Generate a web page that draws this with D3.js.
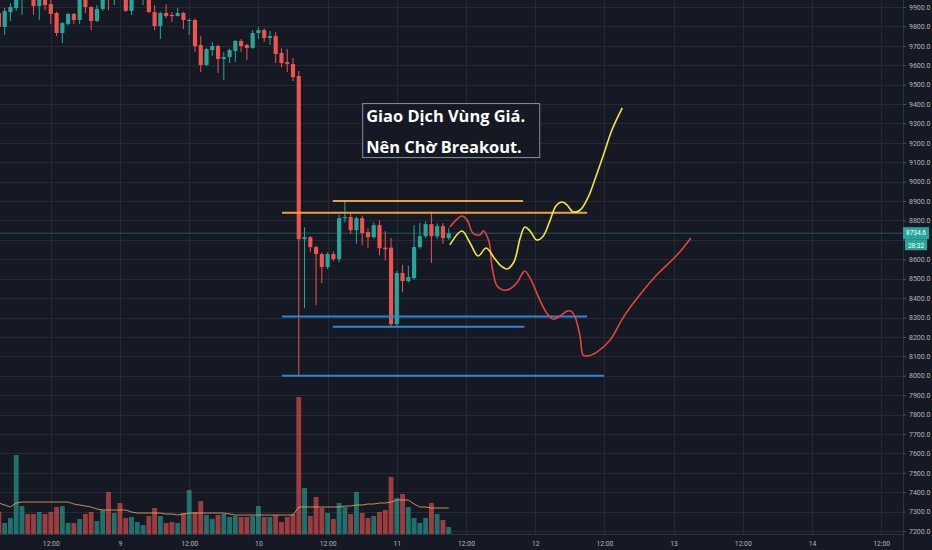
<!DOCTYPE html>
<html>
<head>
<meta charset="utf-8">
<script src="https://cdn.jsdelivr.net/npm/d3@7"></script>
<style>
  html, body { margin: 0; padding: 0; background: #151924; overflow: hidden; }
  svg { display: block; }
</style>
</head>
<body>
<svg id="chart"></svg>
<script>
/* ===============================
   Data (hourly candles, hour 0 = day 8 00:00)
================================ */

const firstHour = 3;

const opens = [
  9869, 9797, 9874, 9895, 9975, 9990, 9970, 9905, 9960, 9915,
  9869, 9766, 9812, 9864, 9833, 9945, 9900, 9828, 9890, 9985,
  9960, 9995, 9990, 9880, 9950, 9970, 9975, 9874, 9802, 9869,
  9859, 9854, 9869, 9828, 9833, 9704, 9601, 9678, 9699, 9632,
  9642, 9673, 9725, 9704, 9689, 9766, 9781, 9740, 9750, 9663,
  9616, 9606, 9544, 8704, 8714, 8663, 8627, 8560, 8627, 8601,
  8812, 8818, 8750, 8812, 8740, 8714, 8776, 8660, 8660, 8266,
  8529, 8488, 8503, 8663, 8719, 8781, 8719, 8771, 8709
];
const highs = [
  9880, 9895, 9920, 9990, 10010, 10020, 9990, 9970, 9975, 9935,
  9875, 9822, 9870, 9870, 9960, 9960, 9905, 9910, 9970, 10000,
  10000, 10010, 10000, 9965, 10000, 10005, 9990, 9910, 9875, 9915,
  9874, 9895, 9875, 9840, 9840, 9750, 9690, 9720, 9705, 9668,
  9685, 9730, 9735, 9710, 9780, 9797, 9790, 9776, 9770, 9687,
  9683, 9637, 9570, 8765, 8720, 8670, 8635, 8635, 8640, 8830,
  8900, 8840, 8820, 8825, 8760, 8790, 8800, 8745, 8710, 8540,
  8570, 8566, 8776, 8787, 8795, 8838, 8785, 8786, 8760
];
const lows = [
  9780, 9756, 9828, 9880, 9859, 9945, 9859, 9833, 9884, 9812,
  9750, 9714, 9805, 9812, 9812, 9869, 9781, 9822, 9880, 9884,
  9910, 9945, 9875, 9859, 9940, 9910, 9870, 9781, 9735, 9843,
  9823, 9850, 9787, 9756, 9668, 9565, 9594, 9647, 9560, 9524,
  9611, 9616, 9668, 9627, 9684, 9735, 9720, 9704, 9611, 9590,
  9565, 9518, 8005, 8348, 8637, 8364, 8477, 8550, 8590, 8585,
  8790, 8730, 8680, 8673, 8657, 8705, 8621, 8594, 8255, 8255,
  8431, 8480, 8495, 8655, 8710, 8581, 8705, 8680, 8700
];
const closes = [
  9797, 9879, 9900, 9970, 9990, 9985, 9905, 9950, 9910, 9864,
  9766, 9817, 9864, 9833, 9940, 9900, 9828, 9890, 9950, 9960,
  9980, 9990, 9880, 9950, 9985, 9985, 9874, 9802, 9869, 9854,
  9853, 9869, 9833, 9833, 9699, 9601, 9683, 9699, 9632, 9642,
  9678, 9725, 9699, 9689, 9766, 9781, 9740, 9750, 9658, 9611,
  9606, 9539, 8704, 8714, 8663, 8627, 8560, 8627, 8601, 8812,
  8818, 8750, 8812, 8735, 8714, 8776, 8657, 8652, 8266, 8529,
  8488, 8508, 8663, 8719, 8781, 8719, 8771, 8709, 8734.6
];
const volumes = [
  1110, 550, 800, 3950, 1400, 1000, 1000, 1100, 1000, 1100,
  1350, 1400, 550, 550, 750, 1000, 1100, 650, 1200, 2100,
  1050, 1550, 800, 850, 600, 450, 900, 1300, 900, 550,
  600, 550, 1050, 2200, 1100, 1650, 950, 750, 950, 1000,
  850, 900, 850, 850, 900, 1400, 850, 850, 950, 600,
  850, 1000, 6850, 2300, 900, 1850, 1300, 1050, 750, 1550,
  1350, 1000, 2100, 1050, 800, 900, 1100, 1200, 2850, 1800,
  2000, 1350, 800, 550, 800, 1550, 1000, 700, 350
];
const volumeMA = [
  1550, 1450, 1350, 1550, 1600, 1600, 1600, 1600, 1600, 1600,
  1600, 1600, 1600, 1500, 1450, 1400, 1350, 1250, 1200, 1200,
  1200, 1200, 1200, 1100, 1050, 1050, 1050, 1050, 1050, 1000,
  1000, 950, 1000, 1050, 1050, 1050, 1050, 1050, 1050, 1050,
  1000, 950, 950, 950, 950, 950, 950, 950, 950, 950,
  950, 950, 1350, 1350, 1350, 1350, 1350, 1350, 1350, 1350,
  1400, 1400, 1450, 1450, 1500, 1500, 1550, 1550, 1600, 1700,
  1700, 1700, 1500, 1350, 1350, 1300, 1300, 1300, 1300
];

const lastPrice = 8734.6;
const countdown = "28:32";

/* axis ticks */
const priceTicks = d3.range(7200, 9901, 100);
const timeTicks = [12, 24, 36, 48, 60, 72, 84, 96, 108, 120, 132, 144, 156];
const dayLabels = { 24: "9", 48: "10", 72: "11", 96: "12", 120: "13", 144: "14" };

/* drawn horizontal levels */
const levelPrices = [8900, 8840, 8305, 8252, 8000];
const levelStart = [60.9, 52.1, 52.1, 60.9, 52.1];
const levelEnd = [93.9, 105.0, 105.0, 94.1, 107.9];
const levelKind = ["resistance", "resistance", "support", "support", "support"];

/* hand-drawn scenarios (hour, price) */
const bullHours = [81.2, 83.3, 84.7, 86.1, 87.5, 88.9, 90.1, 91.1, 92.3, 93.4, 94.2, 95.1, 96.3,
  97.4, 98.6, 99.6, 100.7, 101.5, 102.6, 103.8, 105.2, 106.5, 107.9, 109.3, 111.1];
const bullPrices = [8674, 8746, 8684, 8617, 8658, 8607, 8565, 8550, 8586, 8710, 8766, 8746, 8699,
  8720, 8802, 8875, 8895, 8880, 8844, 8854, 8921, 9024, 9143, 9266, 9380];

const bearHours = [81.2, 82.1, 83.3, 84.2, 85.2, 86.4, 87.0, 88.0, 88.5, 89.4, 90.4, 91.6, 92.8,
  93.7, 94.2, 95.1, 96.8, 98.0, 99.1, 100.3, 101.5, 102.2, 102.9, 103.8, 104.3, 105.0, 106.7,
  109.0, 111.2, 113.7, 117.1, 120.6, 123.0];
const bearPrices = [8766, 8797, 8823, 8802, 8735, 8725, 8746, 8689, 8565, 8462, 8442, 8447, 8478,
  8524, 8540, 8504, 8390, 8323, 8292, 8308, 8333, 8333, 8303, 8200, 8107, 8102, 8122,
  8184, 8297, 8400, 8520, 8622, 8710];

const noteLines = ["Giao Dịch Vùng Giá.", "Nên Chờ Breakout."];
const noteAnchor = { hour: 66.0, price: 9405 };

/* ===============================
   Setup
================================ */

const W = 932, H = 550;
const plotRight = 903, plotBottom = 534;

const UP = "#26a69a", DOWN = "#ef5350";
const GRID = "#262a35";
const TEXT = "#b2b5be";

const svg = d3.select("#chart").attr("width", W).attr("height", H);

svg.append("rect").attr("width", W).attr("height", H).attr("fill", "#151924");

const x = d3.scaleLinear().domain([3.19, 159.78]).range([0, plotRight]);
const y = d3.scaleLinear().domain([7200, 9900]).range([531, 7]);
const v = d3.scaleLinear().domain([0, 7000]).range([plotBottom, 394]);

const step = x(1) - x(0);

svg.append("clipPath").attr("id", "pane")
  .append("rect").attr("width", plotRight).attr("height", plotBottom);

const pane = svg.append("g").attr("clip-path", "url(#pane)");

/* -------- GRID -------- */

pane.selectAll(".hgrid").data(priceTicks).join("line")
  .attr("x1", 0).attr("x2", plotRight)
  .attr("y1", d => Math.round(y(d)) + 0.5).attr("y2", d => Math.round(y(d)) + 0.5)
  .attr("stroke", GRID);

pane.selectAll(".vgrid").data(timeTicks).join("line")
  .attr("x1", d => Math.round(x(d)) + 0.5).attr("x2", d => Math.round(x(d)) + 0.5)
  .attr("y1", 0).attr("y2", plotBottom)
  .attr("stroke", GRID);

/* -------- DATA -------- */

const candles = opens.map((o, i) => ({
  t: firstHour + i,
  o, h: highs[i], l: lows[i], c: closes[i],
  vol: volumes[i], ma: volumeMA[i]
}));

const colorOf = d => d.c >= d.o ? UP : DOWN;

/* -------- VOLUME -------- */

const vw = step * 0.84;

pane.selectAll(".vol").data(candles).join("rect")
  .attr("x", d => x(d.t) - vw / 2)
  .attr("width", vw)
  .attr("y", d => v(d.vol))
  .attr("height", d => plotBottom - v(d.vol))
  .attr("fill", colorOf)
  .attr("opacity", 0.62);

pane.append("path")
  .datum(candles)
  .attr("fill", "none")
  .attr("stroke", "#e8a25a")
  .attr("stroke-width", 1)
  .attr("opacity", 0.85)
  .attr("d", d3.line().x(d => x(d.t)).y(d => v(d.ma)));

/* -------- LAST PRICE LINE -------- */

pane.append("line")
  .attr("x1", 0).attr("x2", plotRight)
  .attr("y1", y(lastPrice)).attr("y2", y(lastPrice))
  .attr("stroke", UP).attr("stroke-width", 1).attr("opacity", 0.45);

/* -------- CANDLES -------- */

const bw = step * 0.72;
const cg = pane.selectAll(".candle").data(candles).join("g");

cg.append("line")
  .attr("x1", d => x(d.t)).attr("x2", d => x(d.t))
  .attr("y1", d => y(d.h)).attr("y2", d => y(d.l))
  .attr("stroke", colorOf).attr("stroke-width", 1);

cg.append("rect")
  .attr("x", d => x(d.t) - bw / 2)
  .attr("width", bw)
  .attr("y", d => y(Math.max(d.o, d.c)))
  .attr("height", d => Math.max(1, Math.abs(y(d.o) - y(d.c))))
  .attr("fill", colorOf);

/* -------- LEVELS -------- */

const levels = levelPrices.map((p, i) => ({ p, a: levelStart[i], b: levelEnd[i], kind: levelKind[i] }));

pane.selectAll(".level").data(levels).join("line")
  .attr("x1", d => x(d.a)).attr("x2", d => x(d.b))
  .attr("y1", d => y(d.p)).attr("y2", d => y(d.p))
  .attr("stroke", d => d.kind === "resistance" ? "#f0a22e" : "#2f86d8")
  .attr("stroke-width", 2);

/* -------- SCENARIOS -------- */

const curve = d3.line().x(d => x(d[0])).y(d => y(d[1])).curve(d3.curveCatmullRom.alpha(0.5));

pane.append("path")
  .attr("d", curve(bearHours.map((h, i) => [h, bearPrices[i]])))
  .attr("fill", "none").attr("stroke", "#e8433a").attr("stroke-width", 1.6);

pane.append("path")
  .attr("d", curve(bullHours.map((h, i) => [h, bullPrices[i]])))
  .attr("fill", "none").attr("stroke", "#f6e63e").attr("stroke-width", 1.6);

/* -------- NOTE -------- */

const nx = x(noteAnchor.hour), ny = y(noteAnchor.price);

pane.append("rect")
  .attr("x", nx + 0.5).attr("y", ny + 0.5)
  .attr("width", 177).attr("height", 54)
  .attr("fill", "#151924")
  .attr("stroke", "#8c909a").attr("stroke-width", 1);

pane.selectAll(".note").data(noteLines).join("text")
  .attr("x", nx + 4)
  .attr("y", (d, i) => ny + 18.5 + i * 31)
  .attr("fill", "#ffffff")
  .attr("font-family", "'Open Sans', sans-serif")
  .attr("font-weight", 700)
  .attr("font-size", 16.4)
  .text(d => d);

/* ===============================
   Axes
================================ */

svg.append("line")
  .attr("x1", plotRight + 0.5).attr("x2", plotRight + 0.5)
  .attr("y1", 0).attr("y2", H)
  .attr("stroke", "#2f333e");

svg.append("line")
  .attr("x1", 0).attr("x2", plotRight)
  .attr("y1", plotBottom + 0.5).attr("y2", plotBottom + 0.5)
  .attr("stroke", "#2f333e");

const yAxis = svg.append("g")
  .attr("transform", `translate(${plotRight},0)`)
  .call(d3.axisRight(y).tickValues(priceTicks).tickFormat(d => d.toFixed(1)).tickSize(3).tickPadding(3));

yAxis.select(".domain").remove();
yAxis.selectAll("line").attr("stroke", "#4a4e59");
yAxis.selectAll("text")
  .attr("fill", TEXT)
  .attr("font-family", "Roboto, sans-serif")
  .attr("font-size", 7);

/* hide the axis label that sits under the last price tag */
yAxis.selectAll(".tick")
  .filter(d => Math.abs(y(d) - y(lastPrice)) < 9)
  .select("text").remove();

const xAxis = svg.append("g")
  .attr("transform", `translate(0,${plotBottom})`)
  .call(d3.axisBottom(x).tickValues(timeTicks)
    .tickFormat(d => dayLabels[d] || "12:00").tickSize(0).tickPadding(7));

xAxis.select(".domain").remove();
xAxis.selectAll("text")
  .attr("fill", TEXT)
  .attr("font-family", "Roboto, sans-serif")
  .attr("font-size", 6.8);

/* -------- LAST PRICE TAG -------- */

const ly = y(lastPrice);
const tag = svg.append("g");

tag.append("rect")
  .attr("x", plotRight).attr("y", ly - 6)
  .attr("width", 26).attr("height", 12)
  .attr("fill", UP);

tag.append("rect")
  .attr("x", plotRight + 2).attr("y", ly + 6)
  .attr("width", 22).attr("height", 11)
  .attr("fill", UP);

tag.append("text")
  .attr("x", plotRight + 13).attr("y", ly + 2.3)
  .attr("text-anchor", "middle")
  .attr("fill", "#ffffff")
  .attr("font-family", "Roboto, sans-serif")
  .attr("font-size", 6.5)
  .text(lastPrice.toFixed(1));

tag.append("text")
  .attr("x", plotRight + 13).attr("y", ly + 14.5)
  .attr("text-anchor", "middle")
  .attr("fill", "#ffffff")
  .attr("font-family", "Roboto, sans-serif")
  .attr("font-size", 6.5)
  .text(countdown);
</script>
</body>
</html>
